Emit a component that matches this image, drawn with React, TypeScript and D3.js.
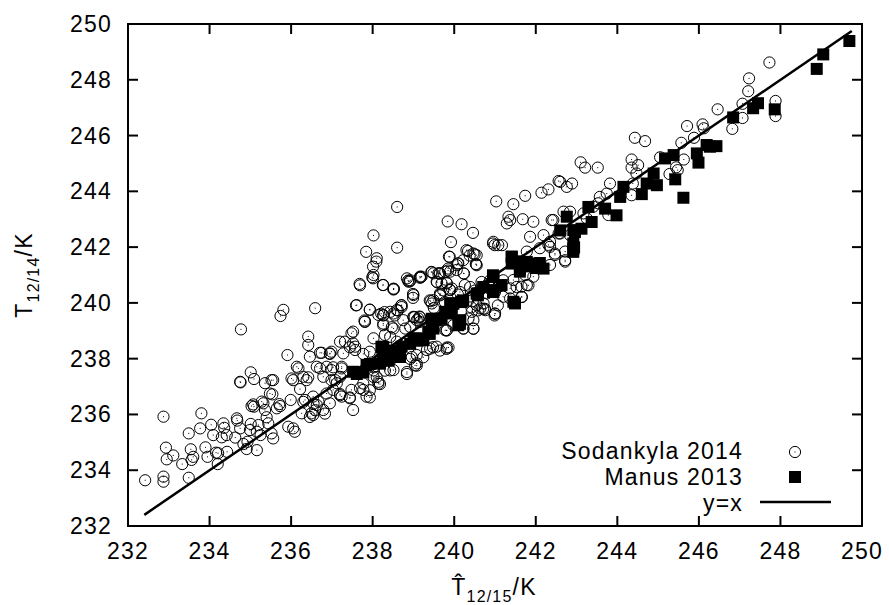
import React from "react";
import * as d3 from "d3";

// ---------- data ----------
const xTicks = [232, 234, 236, 238, 240, 242, 244, 246, 248, 250];
const yTicks = [232, 234, 236, 238, 240, 242, 244, 246, 248, 250];
const lineRange = [232.4, 249.75];

const sodankyla: [number, number][] = [
  [232.42,233.64],[232.87,233.77],[232.87,233.59],[232.87,235.92],[232.93,234.81],[232.95,234.39],[233.11,234.53],[233.33,234.22],[233.49,235.32],[233.49,233.73],[233.54,234.75],[233.56,234.37],[233.6,234.48],[233.77,235.5],[233.8,236.04],[233.9,234.82],[233.95,234.48],[234.04,235.63],[234.09,235.26],[234.16,234.63],[234.21,234.61],[234.2,234.22],[234.34,235.68],[234.36,235.52],[234.3,235.18],[234.42,235.26],[234.43,234.66],[234.63,235.17],[234.67,235.86],[234.68,235.78],[234.75,235.5],[234.75,237.17],[234.76,237.15],[234.77,239.05],[234.83,234.94],[234.91,234.76],[234.93,235.02],[234.99,235.44],[235.01,235.66],[235.16,235.38],[235.16,234.72],[235.01,237.51],[235.09,237.27],[235.03,236.3],[235.07,236.36],[235.09,236.28],[235.2,235.62],[235.25,235.26],[235.28,236.46],[235.32,236.4],[235.36,236.16],[235.4,235.9],[235.44,235.68],[235.52,235.32],[235.56,235.14],[235.36,237.12],[235.52,237.23],[235.54,236.72],[235.65,236.22],[235.73,236.3],[235.71,236.37],[235.81,239.75],[235.74,239.53],[235.91,238.13],[235.99,236.52],[236.05,237.23],[235.93,235.56],[236.05,235.5],[236.09,235.38],[236.14,237.71],[236.18,237.65],[236.22,236.91],[236.26,236.04],[236.34,236.52],[236.3,237.35],[236.38,237.23],[236.42,237.33],[236.42,238.79],[236.42,238.49],[236.46,238.07],[236.5,236.04],[236.54,235.98],[236.54,236.64],[236.63,236.34],[236.67,236.46],[236.59,239.81],[236.63,237.71],[236.71,237.65],[236.75,238.21],[236.87,237.71],[236.79,236.16],[236.95,238.19],[236.99,237.59],[236.99,237.23],[236.95,236.4],[237.03,236.88],[237.12,237.12],[237.2,237.35],[237.24,237.71],[237.2,238.61],[237.28,238.19],[237.24,236.64],[237.44,236.58],[237.52,236.16],[237.48,236.88],[237.48,238.91],[237.52,238.97],[237.52,238.55],[237.57,238.31],[237.61,239.92],[237.69,236.94],[237.77,236.88],[237.85,236.64],[237.81,239.33],[237.93,239.75],[238.14,239.57],
  [238.6,243.44],[241.03,243.64],[238.02,242.42],[239.84,242.92],[240.18,242.82],[240.46,242.51],[238.6,241.98],[239.92,242.18],[237.84,241.83],[238.09,241.48],[238.01,241.3],[239.87,241.66],[240.34,241.86],[240.5,241.74],[240.38,241.7],[240.54,241.38],[240.09,241.41],[240.24,241.05],[240.95,242.13],[240.99,242.07],[238.01,240.88],[237.68,240.68],[238.25,240.64],[238.52,240.5],[238.87,240.8],[238.91,240.77],[239.18,240.92],[239.45,241.1],[239.64,241.06],[239.85,241.16],[239.58,240.74],[239.81,240.72],[239.89,240.48],[238.99,240.32],[238.99,240.18],[239.66,240.3],[240.09,240.3],[239.42,240.06],[239.5,239.82],[238.21,239.61],[238.29,239.67],[238.54,239.55],[238.7,239.91],[238.62,239.73],[239.03,239.49],[239.15,239.51],[237.8,239.37],[240.34,240.08],[240.42,239.84],[240.58,239.73],[240.75,239.79],[240.5,240.44],[240.75,240.56],[240.83,240.68],[240.99,239.55],[241.07,239.91],
  [240.47,241.77],[240.53,241.39],[240.1,241.42],[240.06,241.18],[240.23,241.06],[239.9,241.12],[239.78,241.12],[239.61,241.06],[239.57,240.76],[239.69,240.7],[239.82,240.7],[239.9,240.46],[239.65,240.34],[239.49,240.1],[239.45,239.98],[239.16,240.94],[238.88,240.76],[239.0,240.28],[238.26,240.64],[238.51,240.48],[238.02,241.0],[238.1,241.6],[238.71,239.92],[238.59,239.74],[238.43,239.68],[238.26,239.56],[239.0,239.5],[239.12,239.44],[239.16,239.32],[238.92,239.14],[238.51,239.08],[238.26,239.2],[238.43,238.78],[238.8,239.08],[239.41,238.36],[239.86,238.4],[239.82,239.02],[240.43,239.68],[240.64,239.8],[240.76,239.74],[241.0,239.62],[240.47,239.08],[240.47,239.38],[240.35,239.44],[240.23,239.08],[240.55,239.92],[240.72,239.98],[240.8,240.34],[241.08,240.58],[241.37,240.52],[241.45,240.82],[241.65,240.58],[241.78,240.64],[241.65,240.22],[241.37,240.16],[241.2,240.22],[241.74,241.0],[241.94,240.94],[242.35,241.36],[242.47,241.72],[242.72,241.84],[242.72,241.48],[242.31,242.08],[242.1,241.96],[241.78,241.84],[238.02,237.58],[238.1,237.34],[238.14,237.1],[238.43,237.58],[238.84,237.52],[239.04,237.76],[238.96,238.06],[237.93,236.87],
  [241.45,243.54],[241.74,243.84],[242.14,243.95],[242.31,244.07],[242.6,244.34],[242.76,244.16],[241.33,243.09],[241.37,242.97],[241.29,242.85],[241.68,243.0],[241.94,242.91],[242.39,242.97],[242.68,243.27],[240.96,242.19],[241.08,242.07],[241.17,242.07],[241.86,242.37],[242.19,242.43],[242.35,242.19],[242.6,242.49],[242.84,242.43],[240.3,241.89],[240.55,241.71],[240.55,241.35],[240.22,241.53],[240.06,241.35],[239.89,241.65],[239.85,241.23],[239.65,241.05],[239.44,241.11],[239.16,240.9],[238.92,240.81],[237.69,240.63],[238.51,240.51],[237.59,239.91],[237.93,239.76],[237.81,239.32],[238.26,239.55],[238.47,239.13],[238.71,239.85],[239.0,239.49],[239.16,239.49],[239.4,240.09],[239.65,240.27],[239.73,240.45],[239.77,240.03],[239.98,239.97],[240.14,240.39],[240.39,240.57],[240.63,240.45],[240.67,240.75],[240.88,240.81],[241.0,240.39],[241.2,240.81],[241.53,240.57],[241.82,240.63],[241.66,240.21],[240.71,239.79],[241.0,239.61],[240.47,239.07],[239.81,239.01],[239.81,238.35],[239.48,238.41],[239.24,238.05],[238.92,237.99],[238.84,237.45],[238.43,237.93],[238.3,237.57],[238.02,237.69],[237.77,238.17],[237.44,238.41],[236.95,238.17],[237.03,237.69],[237.2,236.73],[237.44,236.61],[237.93,236.61],[238.18,237.09],[239.08,237.75],[239.65,238.29],
  [247.73,248.62],[247.23,248.05],[247.21,247.59],[247.88,247.24],[247.88,246.7],[247.07,247.14],[247.07,246.63],[246.82,246.24],[246.46,246.94],[245.71,246.34],[246.09,246.4],[246.12,246.26],[245.88,245.92],[245.57,245.74],[245.63,245.14],[244.43,245.92],[244.68,245.8],[245.05,245.22],[245.44,244.86],[245.28,244.62],[245.48,244.76],[243.1,245.04],[243.21,244.85],[243.52,244.85],[242.56,244.37],[242.89,244.28],[244.35,245.14],[244.35,244.85],[244.51,244.94],[244.47,244.64],[244.38,244.28],[244.35,243.86],[243.82,244.28],[243.74,243.92],[243.57,243.8],[243.53,243.57],[243.41,243.45],[243.17,243.21],[243.25,243.03],[243.78,243.15],[242.43,242.97],[242.84,243.27],[242.56,242.49],[242.35,242.01],[242.47,241.77],[242.72,241.53],
  [237.99,240.92],[238.51,239.62],[238.84,240.88],[239.2,240.94],[239.49,241.06],[239.94,240.52],[240.26,240.64],[238.26,239.26],[238.75,239.38],[239.08,239.38],[236.71,238.21],[236.99,238.25],[237.32,238.61],[237.57,238.43],[237.93,238.25],[238.02,238.73],[238.3,238.85],[238.59,238.61],[238.84,238.61],[236.79,237.35],[237.24,237.65],[237.08,237.23],[235.56,237.23],[235.48,236.75],[236.01,237.29],[236.3,236.45],[236.55,236.39],[236.59,236.15],[236.46,235.91],[236.83,236.03],[237.2,236.69],[236.87,236.75],[237.77,237.11],[238.02,237.35],[238.14,237.17],[238.18,238.01],[238.39,237.95],[238.51,237.59],[239.08,237.83],[239.08,238.13],[239.33,238.31],[239.57,238.43],[239.82,238.4],[239.78,239.02],[239.98,239.2],[240.22,239.08]
];

const manus: [number, number][] = [
  [239.93,239.91],[240.17,240.03],[240.58,240.27],[240.95,240.99],[240.95,240.39],[239.52,239.43],
  [242.94,241.99],[241.41,241.66],[241.57,241.49],[241.78,241.31],[242.02,241.25],[242.1,241.43],[240.96,240.94],[241.16,240.64],[240.96,240.46],[241.45,240.04],[241.61,241.12],[240.58,240.34],[240.18,240.04],[239.94,239.98],[239.9,239.62],[240.15,239.38],[240.1,239.2],[239.78,239.68],[239.57,239.38],[239.45,239.32],[239.49,239.08],[239.37,238.9],[239.24,238.66],[239.08,238.66],[239.0,238.72],[238.26,238.42],[238.26,238.06],[238.59,238.18],[238.67,238.06],[238.18,237.82],
  [242.76,243.09],[242.92,242.61],[242.92,242.13],[242.92,241.83],[242.02,241.41],[242.19,241.23],[241.78,241.47],[241.61,241.23],[241.41,241.65],[241.41,241.41],[241.49,239.98],[240.96,240.93],[240.96,240.39],[240.71,240.57],[240.55,240.33],[240.22,240.09],[240.14,239.25],[239.98,239.97],[239.94,239.79],[239.69,239.43],[239.45,239.43],[239.4,238.89],[239.24,238.71],[239.08,238.65],[238.92,238.53],[238.67,238.17],[238.51,238.29],[238.26,238.17],[238.22,238.41],[238.39,237.93],[237.93,237.81],[237.77,237.51],[237.61,237.45],
  [249.69,249.39],[249.05,248.91],[248.89,248.39],[247.86,246.94],[247.45,247.16],[247.33,246.98],[246.84,246.65],[246.43,245.62],[246.27,245.6],[246.19,245.66],[245.95,245.36],[245.99,245.03],[245.62,243.77],[245.42,244.43],[245.38,245.3],[245.17,245.18],[244.89,244.64],[244.97,244.22],[244.72,244.28],[244.6,243.9],[244.15,244.16],[244.07,243.8],[243.98,243.14],[243.7,243.38],[243.37,242.9],[243.29,243.44],[243.12,242.66],[242.96,242.54],[242.92,241.94],[242.6,242.6],
  [237.52,237.53],[237.85,237.77],[238.22,238.43],[238.71,238.43],[239.08,238.73],[239.37,238.97],[239.9,239.98]
];

const legendLabels = ["Sodankyla 2014", "Manus 2013", "y=x"];

// ---------- layout ----------
const W = 889, H = 605;
const M = { left: 128, right: 862, top: 24, bottom: 526 };
const FONT = "'Liberation Sans', Arial, Helvetica, sans-serif";

export default function App() {
  const x = d3.scaleLinear().domain([232, 250]).range([M.left, M.right]);
  const y = d3.scaleLinear().domain([232, 250]).range([M.bottom, M.top]);
  const line = d3.line<number>().x((d) => x(d)).y((d) => y(d));
  const tickLen = 10;
  const fs = 23;
  const ls = 1.2;

  return (
    <svg width={W} height={H} style={{ position: "absolute", left: 0, top: 0, background: "#fff" }}
      fontFamily={FONT}>
      <rect x={0} y={0} width={W} height={H} fill="#fff" />
      {/* data */}
      <g>
        {sodankyla.map((d, i) => (
          <g key={"s" + i}>
            <circle cx={x(d[0])} cy={y(d[1])} r={5.6} fill="none" stroke="#000" strokeWidth={1} />
            <rect x={x(d[0]) - 0.5} y={y(d[1]) - 0.5} width={1} height={1} fill="#000" />
          </g>
        ))}
      </g>
      <g>
        {manus.map((d, i) => (
          <rect key={"m" + i} x={x(d[0]) - 6} y={y(d[1]) - 6} width={12} height={12} fill="#000" />
        ))}
      </g>
      <path d={line(lineRange) || ""} stroke="#000" strokeWidth={2.5} fill="none" />

      {/* frame */}
      <rect x={M.left} y={M.top} width={M.right - M.left} height={M.bottom - M.top}
        fill="none" stroke="#000" strokeWidth={2} />
      {xTicks.map((t) => (
        <g key={"xt" + t}>
          <line x1={x(t)} x2={x(t)} y1={M.bottom} y2={M.bottom - tickLen} stroke="#000" strokeWidth={2} />
          <line x1={x(t)} x2={x(t)} y1={M.top} y2={M.top + tickLen} stroke="#000" strokeWidth={2} />
          <text x={x(t)} y={559} textAnchor="middle" fontSize={fs} letterSpacing={ls}>{t}</text>
        </g>
      ))}
      {yTicks.map((t) => (
        <g key={"yt" + t}>
          <line x1={M.left} x2={M.left + tickLen} y1={y(t)} y2={y(t)} stroke="#000" strokeWidth={2} />
          <line x1={M.right} x2={M.right - tickLen} y1={y(t)} y2={y(t)} stroke="#000" strokeWidth={2} />
          <text x={112} y={y(t) + 8} textAnchor="end" fontSize={fs} letterSpacing={ls}>{t}</text>
        </g>
      ))}

      {/* axis labels */}
      <text transform="translate(32,275) rotate(-90)" textAnchor="middle" fontSize={fs} letterSpacing={ls}>
        T<tspan fontSize={16} dy={7}>12/14</tspan><tspan dy={-7}>/K</tspan>
      </text>
      <text x={494} y={595} textAnchor="middle" fontSize={fs} letterSpacing={ls}>
        {"T\u0302"}<tspan fontSize={16} dy={7}>12/15</tspan><tspan dy={-7}>/K</tspan>
      </text>

      {/* legend */}
      <text x={743} y={459} textAnchor="end" fontSize={fs} letterSpacing={ls}>{legendLabels[0]}</text>
      <text x={743} y={485} textAnchor="end" fontSize={fs} letterSpacing={ls}>{legendLabels[1]}</text>
      <text x={743} y={511} textAnchor="end" fontSize={fs} letterSpacing={ls}>{legendLabels[2]}</text>
      <circle cx={795} cy={452} r={5.6} fill="none" stroke="#000" strokeWidth={1} />
      <rect x={794.5} y={451.5} width={1} height={1} fill="#000" />
      <rect x={789} y={471} width={12} height={12} fill="#000" />
      <line x1={760} x2={831} y1={502} y2={502} stroke="#000" strokeWidth={2.5} />
    </svg>
  );
}
